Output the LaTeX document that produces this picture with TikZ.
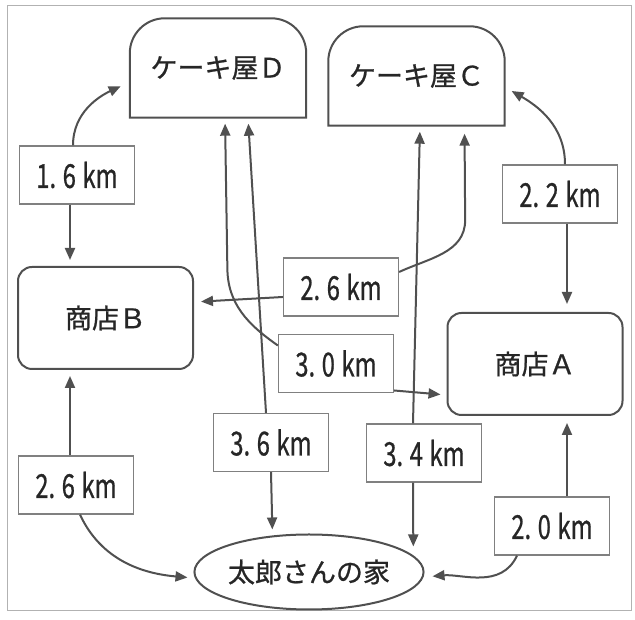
\documentclass[tikz,border=0pt]{standalone}
\usepackage{fontspec}
\setmainfont{Noto Sans CJK JP}[FakeBold=0.8]
\usetikzlibrary{arrows.meta,shapes.geometric}
\definecolor{linegray}{HTML}{505050}
\newcommand{\dist}[1]{\scalebox{0.72}[1]{#1\;km}}
\tikzset{
	line/.style={draw=linegray, line width=2pt, shorten >=6pt},
	place/.style={font=\fontsize{27}{30}\selectfont, text=black!85},
	shop/.style={place, draw=linegray, line width=2pt, rounded corners=14pt, minimum width=175pt, minimum height=102pt},
	cake/.style={place, minimum width=176pt, minimum height=99pt},
	house/.style={place, ellipse, draw=linegray, line width=2pt, minimum width=222pt, minimum height=75pt, inner sep=0pt},
	lbl/.style={draw=gray, line width=1.3pt, fill=white, minimum width=115pt, minimum height=58pt, inner sep=0pt, font=\fontsize{33}{36}\selectfont, text=black!85}
}
\begin{document}
\begin{tikzpicture}[x=1pt, y=1pt, >={Triangle[length=12pt,width=10pt]}]
	\useasboundingbox (0,0) rectangle (635,620);
	\draw[gray!60, line width=1pt] (7,9) rectangle (631,614);
	\node[cake] (D) at (218,552) {ケーキ屋Ｄ};
	\node[cake] (C) at (416.5,544) {ケーキ屋Ｃ};
	\node[shop] (B) at (105.5,302) {商店Ｂ};
	\node[shop] (A) at (535,256) {商店Ａ};
	\node[house] (H) at (309,48) {太郎さんの家};
	\draw[linegray, line width=2pt] (D.south west) -- ([yshift=-35pt]D.north west) arc[start angle=180, end angle=90, radius=35pt] -- ([xshift=-35pt]D.north east) arc[start angle=90, end angle=0, radius=35pt] -- (D.south east) -- cycle;
	\draw[linegray, line width=2pt] (C.south west) -- ([yshift=-35pt]C.north west) arc[start angle=180, end angle=90, radius=35pt] -- ([xshift=-35pt]C.north east) arc[start angle=90, end angle=0, radius=35pt] -- (C.south east) -- cycle;
	\node[lbl] (l16) at (77,445) {\dist{1.\;6}};
	\node[lbl] (l22) at (560,426) {\dist{2.\;2}};
	\node[lbl] (l26a) at (341,333) {\dist{2.\;6}};
	\node[lbl] (l30) at (336,256.5) {\dist{3.\;0}};
	\node[lbl] (l36) at (271,177.5) {\dist{3.\;6}};
	\node[lbl] (l34) at (424,167) {\dist{3.\;4}};
	\node[lbl] (l26b) at (76,135) {\dist{2.\;6}};
	\node[lbl] (l20) at (552,94) {\dist{2.\;0}};
	\draw[->, line, shorten >=10pt] ([xshift=-4pt]l16.north) to[out=90, in=205] ([yshift=-14pt]D.west);
	\draw[->, line] ([xshift=-7pt]l16.south) -- ([xshift=-7pt]l16.south |- B.north);
	\draw[->, line, shorten >=8pt] ([xshift=5pt]l22.north) to[out=90, in=-30] ([yshift=-11pt]C.east);
	\draw[->, line, shorten >=8pt] ([xshift=7pt]l22.south) -- ([xshift=7pt]l22.south |- A.north);
	\draw[->, line, shorten >=7pt] ([yshift=-10pt]l26a.west) -- ([yshift=16pt]B.east);
	\draw[->, line, shorten >=8pt] ([yshift=15pt]l26a.east) to[out=25, in=-90] ++(66,52) -- ([xshift=48pt]C.south);
	\draw[->, line] ([yshift=18pt]l30.west) to[out=145, in=-90] ++(-50.5,78) -- ([xshift=7pt]D.south);
	\draw[->, line] ([yshift=-27pt]l30.east) -- ([yshift=-31pt]A.west);
	\draw[->, line] ([xshift=-5pt]l36.north) -- ([xshift=30pt]D.south);
	\draw[->, line] (l36.south) -- (H.135);
	\draw[->, line] ([xshift=-11pt]l34.north) -- ([xshift=3.5pt]C.south);
	\draw[->, line, shorten >=9pt] ([xshift=-11pt]l34.south) -- (H.9);
	\draw[->, line] ([xshift=-6pt]l26b.north) -- ([xshift=-6pt]l26b.north |- B.south);
	\draw[->, line] ([xshift=4pt]l26b.south) to[out=-65, in=175] ([yshift=-6pt]H.west);
	\draw[->, line, shorten >=7pt] ([xshift=15pt]l20.north) -- ([xshift=15pt]l20.north |- A.south);
	\draw[->, line, shorten >=8pt] ([xshift=-35pt]l20.south) to[out=-115, in=5] ([yshift=-5pt]H.east);
\end{tikzpicture}
\end{document}
